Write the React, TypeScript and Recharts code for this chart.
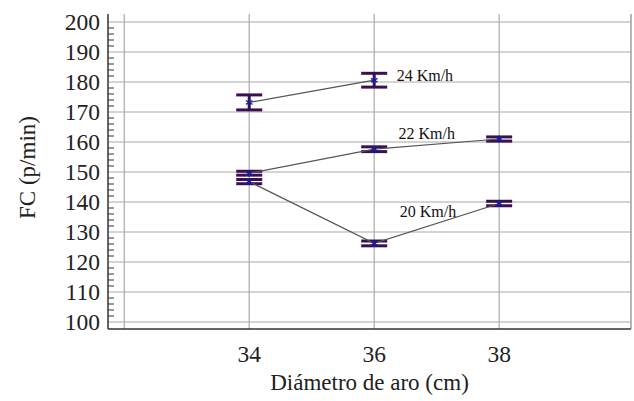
import { ComposedChart, CartesianGrid, ErrorBar, Line, ReferenceDot, XAxis, YAxis } from 'recharts'

// rim diameters (cm)
const diameters = [34, 36, 38]

// mean heart rate (beats/min) and error per speed
const fc20 = [146.8, 126.2, 139.5]
const err20 = [0.7, 0.8, 0.75]
const fc22 = [149.6, 157.6, 161.0]
const err22 = [0.65, 0.8, 0.7]
const fc24 = [173.2, 180.6]
const err24 = [2.5, 2.3]

const seriesNames = ['20 Km/h', '22 Km/h', '24 Km/h']
// where each speed label sits (diameter, FC)
const labelX = [36.41, 36.39, 36.36]
const labelY = [136.7, 163, 182.3]

const yTicks = Array.from({ length: 51 }, (_, i) => 100 + i * 2)
const xTicks = [32, 34, 36, 38]
const gridY = [100, 110, 120, 130, 140, 150, 160, 170, 180, 190, 200]

const W = 634
const H = 401
const PLOT_LEFT = 108
const FONT = 'Liberation Serif, DejaVu Serif, serif'
const BAR = '#3a1150'
const INK = '#222'
const textStyle = { fontFamily: FONT }

const rows = (fc: number[], err: number[]) =>
  fc.map((v, i) => ({ d: diameters[i], fc: v, err: err[i] }))

const series = [
  { name: seriesNames[0], data: rows(fc20, err20) },
  { name: seriesNames[1], data: rows(fc22, err22) },
  { name: seriesNames[2], data: rows(fc24, err24) },
]

function Asterisk(props: any) {
  const { cx, cy } = props
  if (cx == null || cy == null) return null
  const r = 3.2
  return (
    <g stroke="#1c1c9c" strokeWidth={1.4}>
      <line x1={cx} y1={cy - r} x2={cx} y2={cy + r} />
      <line x1={cx - r} y1={cy - r * 0.6} x2={cx + r} y2={cy + r * 0.6} />
      <line x1={cx - r} y1={cy + r * 0.6} x2={cx + r} y2={cy - r * 0.6} />
    </g>
  )
}

function YTick(props: any) {
  const { y, payload } = props
  const v = payload.value
  const major = v % 10 === 0
  return (
    <g>
      {!major && <line x1={PLOT_LEFT} x2={PLOT_LEFT + 6} y1={y} y2={y} stroke="#333" strokeWidth={1} />}
      {major && (
        <text x={PLOT_LEFT - 8} y={y} textAnchor="end" dominantBaseline="central" fontSize={23.5} fill={INK} style={textStyle}>
          {v}
        </text>
      )}
    </g>
  )
}

function XTick(props: any) {
  const { x, y, payload } = props
  if (payload.value === 32) return null
  return (
    <text x={x} y={y + 25} textAnchor="middle" fontSize={23.5} fill={INK} style={textStyle}>
      {payload.value}
    </text>
  )
}

function YTitle(props: any) {
  const { viewBox } = props
  const cx = viewBox.x + 27
  const cy = viewBox.y + viewBox.height / 2 - 4
  return (
    <text
      x={cx}
      y={cy}
      transform={`rotate(-90 ${cx} ${cy})`}
      textAnchor="middle"
      dominantBaseline="central"
      fontSize={23}
      fill={INK}
      style={textStyle}
    >
      FC (p/min)
    </text>
  )
}

function XTitle(props: any) {
  const { viewBox } = props
  return (
    <text x={viewBox.x + viewBox.width / 2} y={390} textAnchor="middle" fontSize={23} fill={INK} style={textStyle}>
      Diámetro de aro (cm)
    </text>
  )
}

function SpeedLabel(props: any) {
  const { viewBox, value } = props
  return (
    <text x={viewBox.x} y={viewBox.y} dominantBaseline="central" fontSize={16} fill="#111" style={textStyle}>
      {value}
    </text>
  )
}

export default function App() {
  return (
    <div style={{ position: 'absolute', left: 0, top: 0, background: '#fff' }}>
      <ComposedChart width={W} height={H} margin={{ top: 14, right: 0, bottom: 0, left: 0 }}>
        <CartesianGrid
          stroke="#aaa"
          strokeWidth={1.2}
          horizontalValues={gridY}
          verticalValues={xTicks}
        />
        <XAxis
          type="number"
          dataKey="d"
          domain={[31.74, 40.11]}
          ticks={xTicks}
          allowDataOverflow
          height={72}
          tickLine={false}
          axisLine={{ stroke: '#333', strokeWidth: 1.5 }}
          tick={<XTick />}
          label={<XTitle />}
        />
        <XAxis xAxisId="top" orientation="top" type="number" domain={[31.74, 40.11]} height={0} tick={false} tickLine={false} axisLine={{ stroke: '#333', strokeWidth: 1.5 }} />
        <YAxis
          type="number"
          dataKey="fc"
          domain={[97.67, 202.67]}
          ticks={yTicks}
          interval={0}
          allowDataOverflow
          width={PLOT_LEFT}
          tickLine={false}
          axisLine={{ stroke: '#333', strokeWidth: 1.5 }}
          tick={<YTick />}
          label={<YTitle />}
        />
        <YAxis yAxisId="right" orientation="right" width={3} domain={[97.67, 202.67]} tick={false} tickLine={false} axisLine={{ stroke: '#888', strokeWidth: 1.2 }} />
        {series.map((s) => (
          <Line
            key={s.name}
            data={s.data}
            dataKey="fc"
            type="linear"
            stroke="#555"
            strokeWidth={1.2}
            dot={(p: any) => <Asterisk key={`${s.name}-${p.index}`} {...p} />}
            activeDot={false}
            isAnimationActive={false}
          >
            <ErrorBar dataKey="err" direction="y" width={13} stroke={BAR} strokeWidth={3} isAnimationActive={false} />
          </Line>
        ))}
        {seriesNames.map((name, i) => (
          <ReferenceDot
            key={name}
            x={labelX[i]}
            y={labelY[i]}
            r={0}
            stroke="none"
            ifOverflow="visible"
            label={<SpeedLabel value={name} />}
          />
        ))}
      </ComposedChart>
    </div>
  )
}
